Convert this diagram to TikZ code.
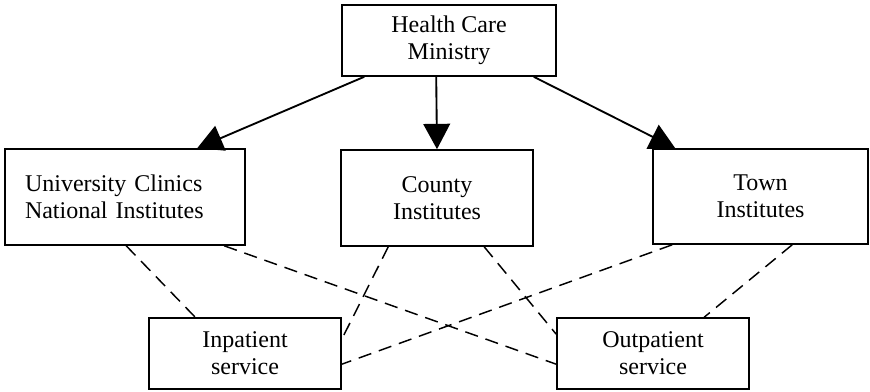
\documentclass[tikz,border=0pt]{standalone}
\usepackage{fontspec}
\setmainfont{Liberation Serif}
\usetikzlibrary{arrows.meta,calc}

\tikzstyle{orgbox}=[rectangle,
                    draw,
                    line width=1.2pt,
                    align=center,
                    inner sep=0pt,
                    font=\fontsize{18}{20}\selectfont]
\tikzstyle{ruleline}=[line width=1.4pt,
                      -{Triangle[length=19pt,width=20pt]}]
\tikzstyle{serviceline}=[line width=1.1pt,
                         dash pattern=on 10pt off 6pt]

\begin{document}
\begin{tikzpicture}[x=0.75pt,y=-0.75pt]
    \useasboundingbox (0,0) rectangle (870,392);

    \node [orgbox, minimum width=160.5pt, minimum height=53.25pt] (min) at (449,40.5) {Health Care\\Ministry};
    \node [orgbox, align=left, text width=150pt, inner xsep=15pt, minimum height=72pt] (univ) at (125,197) {University Clinics\\National Institutes};
    \node [orgbox, minimum width=144pt, minimum height=72pt] (county) at (437,198) {County\\Institutes};
    \node [orgbox, minimum width=161.25pt, minimum height=71.25pt] (town) at (760.5,196.5) {Town\\Institutes};
    \node [orgbox, minimum width=144pt, minimum height=53.25pt] (inp) at (245,353.5) {Inpatient\\service};
    \node [orgbox, minimum width=144pt, minimum height=53.25pt] (outp) at (653,353.5) {Outpatient\\service};

    % ministry to institutes
    \draw [ruleline] ($(min.south west)+(23,0)$) -- ($(univ.north west)+(193,0)$);
    \draw [ruleline] ($(min.south west)+(95,0)$) -- (county.north);
    \draw [ruleline] ($(min.south east)+(-23,0)$) -- ($(town.north west)+(23,0)$);

    % institutes to services
    \draw [serviceline] ($(univ.south west)+(122,0)$) -- ($(inp.north west)+(47,0)$);
    \draw [serviceline] ($(univ.south west)+(220,0)$) -- ($(outp.north west)+(0,47)$);
    \draw [serviceline] ($(county.south west)+(48,0)$) -- ($(inp.north east)+(0,22)$);
    \draw [serviceline] ($(county.south west)+(144,0)$) -- ($(outp.north west)+(0,17)$);
    \draw [serviceline] ($(town.south west)+(20,0)$) -- ($(inp.north east)+(0,47)$);
    \draw [serviceline] ($(town.south west)+(140,0)$) -- ($(outp.north west)+(148,0)$);
\end{tikzpicture}
\end{document}
